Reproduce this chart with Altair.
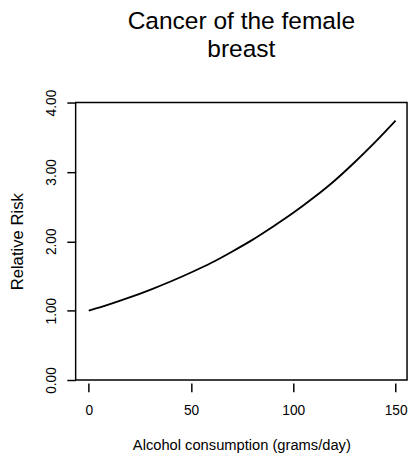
import altair as alt
import pandas as pd

alcohol = [0, 10, 20, 30, 40, 50, 60, 70, 80, 90, 100, 110, 120, 130, 140, 150]
relative_risk = [1.00, 1.09, 1.19, 1.30, 1.42, 1.55, 1.69, 1.85, 2.02, 2.21,
                 2.41, 2.63, 2.87, 3.14, 3.43, 3.74]
x_ticks = [0, 50, 100, 150]
y_ticks = [0, 1, 2, 3, 4]

df = pd.DataFrame({"alcohol": alcohol, "rr": relative_risk})
FONT = "Liberation Sans"

chart = alt.Chart(df).mark_line(color="black", strokeWidth=1.9, interpolate="monotone").encode(
    x=alt.X("alcohol:Q",
            scale=alt.Scale(domain=[-6.4, 155.6], nice=False, zero=False),
            axis=alt.Axis(title="Alcohol consumption (grams/day)", values=x_ticks,
                          format="d", domain=False, tickSize=9, tickColor="black",
                          tickWidth=1.5, offset=3, labelPadding=12, labelFontSize=14,
                          labelColor="black", labelFont=FONT, titleFont=FONT,
                          titleFontSize=15, titleFontWeight="normal", titleColor="black",
                          titlePadding=21, grid=False)),
    y=alt.Y("rr:Q",
            scale=alt.Scale(domain=[0, 4], nice=False),
            axis=alt.Axis(title="Relative Risk", values=y_ticks, format=".2f",
                          domain=False, tickSize=9, tickColor="black", tickWidth=1.5,
                          labelAngle=270, labelAlign="center", labelBaseline="bottom",
                          labelPadding=9, labelFontSize=14, labelColor="black",
                          labelFont=FONT, titleFont=FONT, titleFontSize=17,
                          titleFontWeight="normal", titleColor="black", titlePadding=18,
                          grid=False)),
).properties(
    width=338,
    height=283,
    title=alt.TitleParams(text=["Cancer of the female", "breast"], font=FONT,
                          fontSize=25, fontWeight="normal", color="black",
                          anchor="middle", lineHeight=28, offset=28),
    autosize=alt.AutoSizeParams(type="none"),
    padding={"left": 69, "top": 92, "right": 2, "bottom": 70},
).configure(
    background="white",
    view=alt.ViewConfig(stroke="black", strokeWidth=1.5, strokeOpacity=1),
)

chart.save("out.html", embed_options={"renderer": "svg", "actions": False})
